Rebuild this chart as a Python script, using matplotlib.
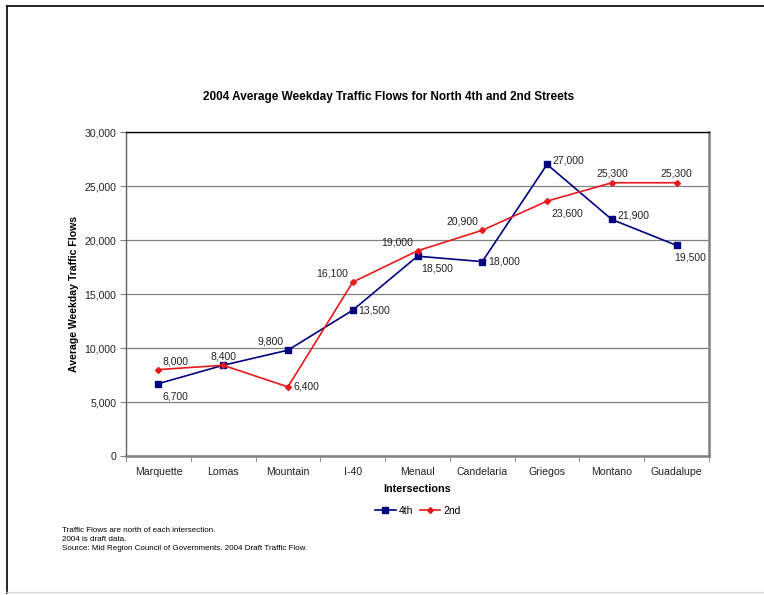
import matplotlib
matplotlib.use("Agg")
import matplotlib.pyplot as plt
from matplotlib.lines import Line2D

plt.rcParams['font.family'] = ['Liberation Sans', 'DejaVu Sans']

categories = ["Marquette", "Lomas", "Mountain", "I-40", "Menaul", "Candelaria",
              "Griegos", "Montano", "Guadalupe"]
fourth = [6700, 8400, 9800, 13500, 18500, 18000, 27000, 21900, 19500]
second = [8000, 8400, 6400, 16100, 19000, 20900, 23600, 25300, 25300]
yticks = [0, 5000, 10000, 15000, 20000, 25000, 30000]

# label offsets (points) for each data label; None = no label
off4 = [(3, -9), (0, 6), (-3, 6), (4, 0), (3, -9), (4, 0), (4, 3), (4, 3), (-2, -9)]
ha4 = ['left', 'center', 'right', 'left', 'left', 'left', 'left', 'left', 'left']
off2 = [(3, 6), None, (4, 0), (-3, 6), (-3, 6), (-3, 6), (3, -9), (0, 7), (0, 7)]
ha2 = ['left', 'center', 'left', 'right', 'right', 'right', 'left', 'center', 'center']

W, H = 764, 595
fig = plt.figure(figsize=(W / 100, H / 100), dpi=100)
fig.patch.set_facecolor('white')
# figure frame (top and left dark, bottom faint)
fig.add_artist(Line2D([6.5 / W, 1.0], [1 - 5.5 / H, 1 - 5.5 / H], transform=fig.transFigure,
                      color='black', lw=1.2))
fig.add_artist(Line2D([6.5 / W, 6.5 / W], [1 - 5.5 / H, 1 - 593 / H], transform=fig.transFigure,
                      color='black', lw=1.2))
fig.add_artist(Line2D([6.5 / W, 1.0], [1 - 592 / H, 1 - 592 / H], transform=fig.transFigure,
                      color='#d8d8d8', lw=1.0))

ax = fig.add_axes([126 / W, 1 - 456 / H, (709 - 126) / W, (456 - 132) / H])
x = list(range(len(categories)))

ax.plot(x, fourth, color='#000080', lw=1.2, marker='s', ms=5, mfc='#000080', mec='#000080',
        label='4th', zorder=3)
ax.plot(x, second, color='#E8191C', lw=1.2, marker='D', ms=3.0, mfc='#E8191C', mec='#E8191C',
        label='2nd', zorder=4)

for i, v in enumerate(fourth):
    if off4[i] is None:
        continue
    ax.annotate(f"{v:,}", (i, v), xytext=off4[i], textcoords='offset points',
                ha=ha4[i], va='center', fontsize=7.5, color='#222222')
for i, v in enumerate(second):
    if off2[i] is None:
        continue
    ax.annotate(f"{v:,}", (i, v), xytext=off2[i], textcoords='offset points',
                ha=ha2[i], va='center', fontsize=7.5, color='#222222')

ax.set_xlim(-0.5, len(categories) - 0.5)
ax.set_ylim(0, 30000)
ax.set_yticks(yticks)
ax.set_yticklabels([f"{t:,}" for t in yticks], fontsize=7.6, color='#222222')
ax.yaxis.grid(True, color='#808080', lw=0.9)
ax.set_axisbelow(True)

ax.set_xticks(x)
ax.set_xticklabels(categories, fontsize=7.6, color='#222222')
ax.tick_params(axis='x', length=0, pad=8)
ax.set_xticks([i + 0.5 for i in range(-1, len(categories))], minor=True)
ax.tick_params(axis='x', which='minor', length=4, color='#808080', direction='out')
ax.tick_params(axis='y', length=4, color='#808080', direction='out', pad=3)

ax.spines['top'].set_color('black')
ax.spines['top'].set_linewidth(1.0)
ax.spines['left'].set_color('#606060')
ax.spines['left'].set_linewidth(1.0)
ax.spines['right'].set_color('#808080')
ax.spines['right'].set_linewidth(1.8)
ax.spines['bottom'].set_color('#808080')
ax.spines['bottom'].set_linewidth(1.8)

ax.set_xlabel("Intersections", fontsize=7.8, fontweight='bold', labelpad=5)
ax.set_ylabel("Average Weekday Traffic Flows", fontsize=7.6, fontweight='bold', labelpad=4)

fig.text(389 / W, 1 - 97 / H, "2004 Average Weekday Traffic Flows for North 4th and 2nd Streets",
         ha='center', va='center', fontsize=8.5, fontweight='bold')

leg = fig.legend(loc='center', bbox_to_anchor=(418 / W, 1 - 511 / H), ncol=2, frameon=False,
                 fontsize=7.5, handlelength=2.0, columnspacing=0.6, handletextpad=0.3)

notes = ["Traffic Flows are north of each intersection.",
         "2004 is draft data.",
         "Source: Mid Region Council of Governments. 2004 Draft Traffic Flow."]
for k, n in enumerate(notes):
    fig.text(62 / W, 1 - (530 + k * 9.5) / H, n, ha='left', va='center', fontsize=5.8)

fig.savefig("out.png", dpi=100, facecolor='white')
